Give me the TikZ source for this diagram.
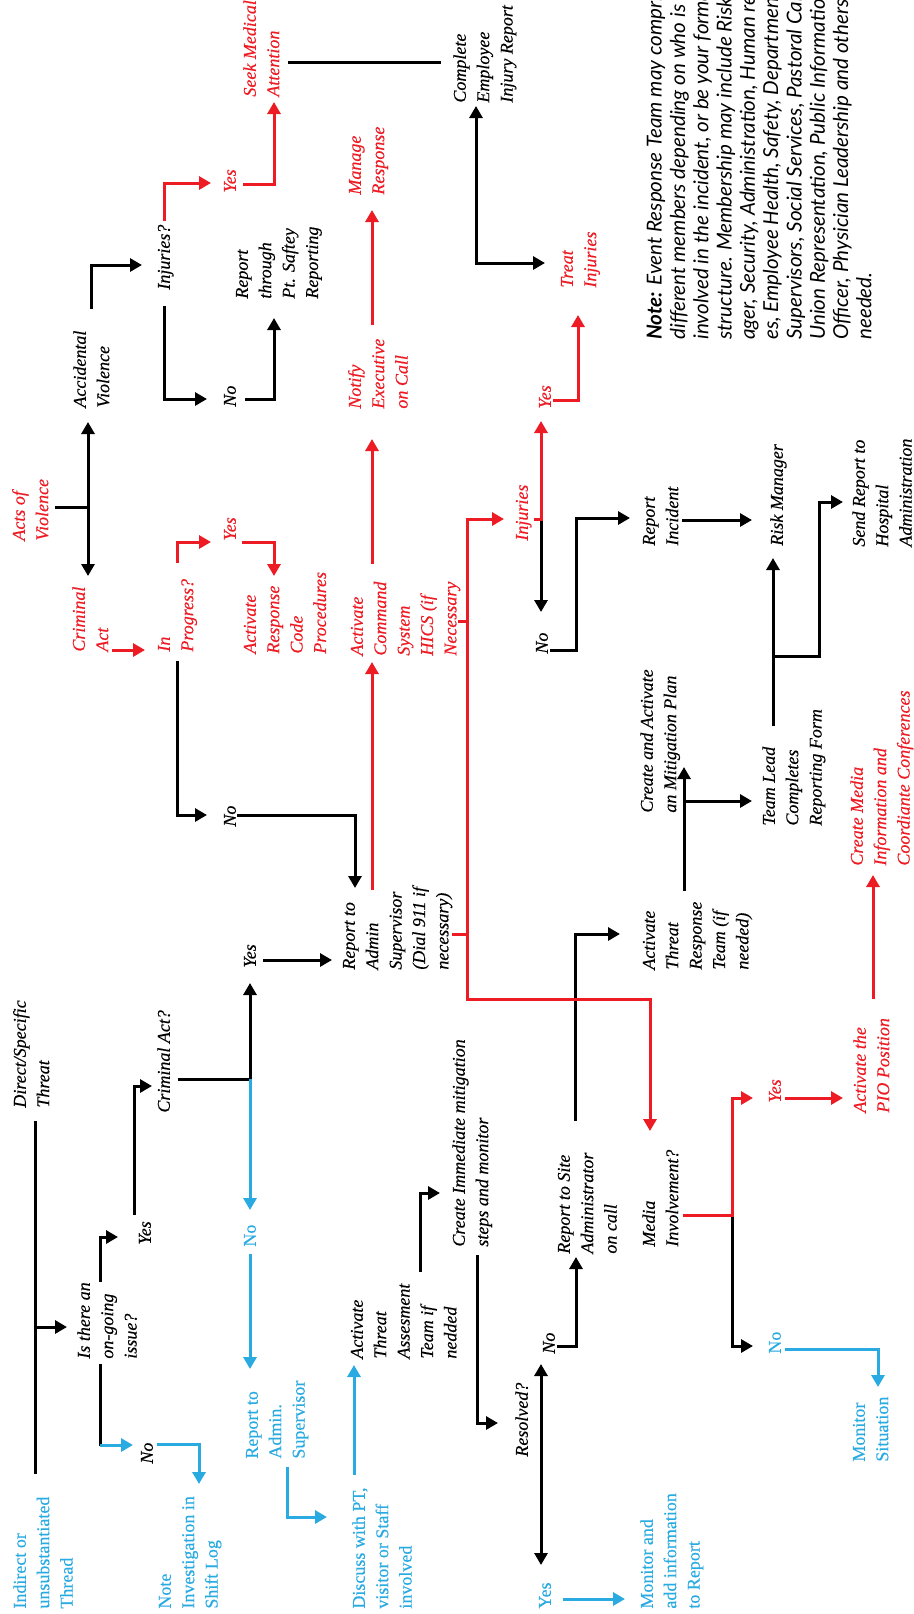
\documentclass[tikz,border=0pt]{standalone}
\usepackage{fontspec}
\setmainfont{Liberation Serif}[FakeBold=0.3]
\newfontfamily\notefont{Lato}
\usetikzlibrary{arrows.meta}
\definecolor{myred}{RGB}{237,28,36}
\definecolor{myblue}{RGB}{41,171,226}
\begin{document}
\begin{tikzpicture}[x=0.5pt,y=-0.5pt,
  txt/.style={rotate=90,anchor=north west,align=left,inner sep=0pt},
  bk/.style={txt,font=\fontsize{9}{11.7}\selectfont\itshape,text=black},
  rd/.style={txt,font=\fontsize{9}{11.7}\selectfont\itshape,text=myred},
  bl/.style={txt,font=\fontsize{9}{11.7}\selectfont,text=myblue},
  cn/.style={line width=1.5pt},
  cb/.style={cn,draw=black},
  cr/.style={cn,draw=myred},
  cu/.style={cn,draw=myblue},
  arw/.style={-{Triangle[length=6pt,width=6.5pt]}},
  dbl/.style={{Triangle[length=6pt,width=6.5pt]}-{Triangle[length=6pt,width=6.5pt]}}]
\useasboundingbox (0,0) rectangle (914,1614);
\clip (0,0) rectangle (914,1614);
\fill[white] (0,0) rectangle (914,1614);

% ---------- black texts ----------
\node[bk] (cer) at (449,103) {\strut Complete\\Employee\\Injury Report};
\node[bk] (rtp) at (231,299) {\strut Report\\through\\Pt. Saftey\\Reporting};
\node[bk] (inj1) at (153,290) {\strut Injuries?};
\node[bk] (acc) at (69,408) {\strut Accidental\\Violence};
\node[bk] (no1) at (219,407) {\strut No};
\node[bk] (no2) at (219,827) {\strut No};
\node[bk] (ras) at (338,970) {\strut Report to\\Admin\\Supervisor\\(Dial 911 if\\necessary)};
\node[bk] (yes3) at (239,968) {\strut Yes};
\node[bk] (cra) at (153,1113) {\strut Criminal Act?};
\node[bk] (dst) at (9,1108) {\strut Direct/Specific\\Threat};
\node[bk] (iti) at (73,1359) {\strut Is there an\\on-going\\issue?};
\node[bk] (yes4) at (134,1245) {\strut Yes};
\node[bk] (no3) at (136,1464) {\strut No};
\node[bk] (ata) at (346,1359) {\strut Activate\\Threat\\Assesment\\Team if\\nedded};
\node[bk] (cim) at (448,1247) {\strut Create Immediate mitigation\\steps and monitor};
\node[bk] (res) at (511,1457) {\strut Resolved?};
\node[bk] (no4) at (538,1354) {\strut No};
\node[bk] (rsa) at (553,1254) {\strut Report to Site\\Administrator\\on call};
\node[bk] (med) at (638,1247) {\strut Media\\Involvement?};
\node[bk] (atr) at (638,970) {\strut Activate\\Threat\\Response\\Team (if\\needed)};
\node[bk] (caa) at (636,813) {\strut Create and Activate\\an Mitigation Plan};
\node[bk] (tlc) at (758,826) {\strut Team Lead\\Completes\\Reporting Form};
\node[bk] (rm) at (766,546) {\strut Risk Manager};
\node[bk] (srh) at (848,547) {\strut Send Report to\\Hospital\\Administration};
\node[bk] (ri) at (638,546) {\strut Report\\Incident};
\node[bk] (no5) at (531,654) {\strut No};

% ---------- red texts ----------
\node[rd] (sma) at (239,97) {\strut Seek Medical\\Attention};
\node[rd] (yes1) at (219,193) {\strut Yes};
\node[rd] (mr) at (344,195) {\strut Manage\\Response};
\node[rd] (nec) at (344,409) {\strut Notify\\Executive\\on Call};
\node[rd] (ti) at (556,288) {\strut Treat\\Injuries};
\node[rd] (yes2) at (534,409) {\strut Yes};
\node[rd] (aov) at (8,541) {\strut Acts of\\Violence};
\node[rd] (ca) at (68,652) {\strut Criminal\\Act};
\node[rd] (ip) at (153,652) {\strut In\\Progress?};
\node[rd] (yes5) at (219,541) {\strut Yes};
\node[rd] (arc) at (239,654) {\strut Activate\\Response\\Code\\Procedures};
\node[rd] (acs) at (346,656) {\strut Activate\\Command\\System\\HICS (if\\Necessary};
\node[rd] (inj2) at (511,541) {\strut Injuries};
\node[rd] (cmi) at (846,866) {\strut Create Media\\Information and\\Coordiante Conferences};
\node[rd] (apio) at (849,1113) {\strut Activate the\\PIO Position};
\node[rd] (yes6) at (764,1103) {\strut Yes};

% ---------- blue texts ----------
\node[bl] (iut) at (9,1609) {\strut Indirect or\\unsubstantiated\\Thread};
\node[bl] (nis) at (154,1609) {\strut Note\\Investigation in\\Shift Log};
\node[bl] (no6) at (239,1247) {\strut No};
\node[bl] (rad) at (241,1459) {\strut Report to\\Admin.\\Supervisor};
\node[bl] (dwp) at (348,1609) {\strut Discuss with PT,\\visitor or Staff\\involved};
\node[bl] (yes7) at (534,1609) {\strut Yes};
\node[bl] (mai) at (636,1609) {\strut Monitor and\\add information\\to Report};
\node[bl] (no7) at (764,1354) {\strut No};
\node[bl] (ms) at (848,1462) {\strut Monitor\\Situation};

% ---------- note ----------
\node[txt,font=\notefont\itshape\fontsize{10.3}{11.65}\selectfont] (note) at (645,340)
 {\strut\textbf{Note:} Event Response Team may comprise\\different members depending on who is\\involved in the incident, or be your formal\\structure. Membership may include Risk Man-\\ager, Security, Administration, Human resourc-\\es, Employee Health, Safety, Department\\Supervisors, Social Services, Pastoral Care,\\Union Representation, Public Information\\Officer, Physician Leadership and others as\\needed.};

% ---------- black connectors ----------
\draw[cb] (288,62) -- (441,62);
\draw[cb,dbl] (476,106) -- (476,263) -- (545,263);
\draw[cb,arw] (91,309) -- (91,265) -- (142,265);
\draw[cb,arw] (164,306) -- (164,399) -- (207,399);
\draw[cb,arw] (245,399) -- (274,399) -- (274,318);
\draw[cb] (55,507) -- (88,507);
\draw[cb,dbl] (88,422) -- (88,576);
\draw[cb,arw] (177,661) -- (177,815) -- (207,815);
\draw[cb,arw] (237,815) -- (355,815) -- (355,888);
\draw[cb,arw] (178,1079) -- (250,1079) -- (250,983);
\draw[cb,arw] (263,960) -- (332,960);
\draw[cb] (35,1121) -- (35,1474);
\draw[cb,arw] (35,1327) -- (67,1327);
\draw[cb,arw] (100,1282) -- (100,1237) -- (118,1237);
\draw[cb] (100,1364) -- (100,1446);
\draw[cb,arw] (134,1215) -- (134,1086) -- (152,1086);
\draw[cb,arw] (420,1272) -- (420,1193) -- (440,1193);
\draw[cb,arw] (477,1255) -- (477,1423) -- (498,1423);
\draw[cb,dbl] (541,1364) -- (541,1565);
\draw[cb,arw] (557,1346) -- (576,1346) -- (576,1257);
\draw[cb,arw] (575,1121) -- (575,934) -- (620,934);
\draw[cb,arw] (684,891) -- (684,767);
\draw[cb,arw] (684,801) -- (752,801);
\draw[cb,arw] (773,726) -- (773,558);
\draw[cb,arw] (773,656) -- (819,656) -- (819,502) -- (843,502);
\draw[cb,arw] (682,520) -- (752,520);
\draw[cb,arw] (550,650) -- (576,650) -- (576,518) -- (630,518);
\draw[cb,arw] (541,519) -- (541,612);
\draw[cb,arw] (732,1215) -- (732,1346) -- (753,1346);

% ---------- red connectors ----------
\draw[cr,arw] (164,221) -- (164,183) -- (211,183);
\draw[cr,arw] (243,184) -- (274,184) -- (274,102);
\draw[cr,arw] (372,325) -- (372,210);
\draw[cr,arw] (372,564) -- (372,439);
\draw[cr,arw] (372,890) -- (372,662);
\draw[cr,arw] (112,650) -- (145,650);
\draw[cr,arw] (177,563) -- (177,542) -- (211,542);
\draw[cr,arw] (242,542) -- (274,542) -- (274,576);
\draw[cr,dbl] (504,519) -- (467,519) -- (467,999) -- (650,999) -- (650,1131);
\draw[cr] (458,621) -- (467,621);
\draw[cr] (452,934) -- (467,934);
\draw[cr,arw] (534,519) -- (541,519) -- (541,421);
\draw[cr,arw] (553,400) -- (578,400) -- (578,315);
\draw[cr,arw] (873,999) -- (873,875);
\draw[cr,arw] (785,1098) -- (843,1098);
\draw[cr,arw] (683,1215) -- (732,1215) -- (732,1098) -- (753,1098);

% ---------- blue connectors ----------
\draw[cu,arw] (250,1079) -- (250,1210);
\draw[cu,arw] (250,1254) -- (250,1369);
\draw[cu,arw] (287,1467) -- (287,1517) -- (327,1517);
\draw[cu,arw] (354,1475) -- (354,1365);
\draw[cu,arw] (100,1445) -- (133,1445);
\draw[cu,arw] (157,1444) -- (199,1444) -- (199,1484);
\draw[cu,arw] (785,1349) -- (878,1349) -- (878,1387);
\draw[cu,arw] (563,1599) -- (625,1599);
\end{tikzpicture}
\end{document}
